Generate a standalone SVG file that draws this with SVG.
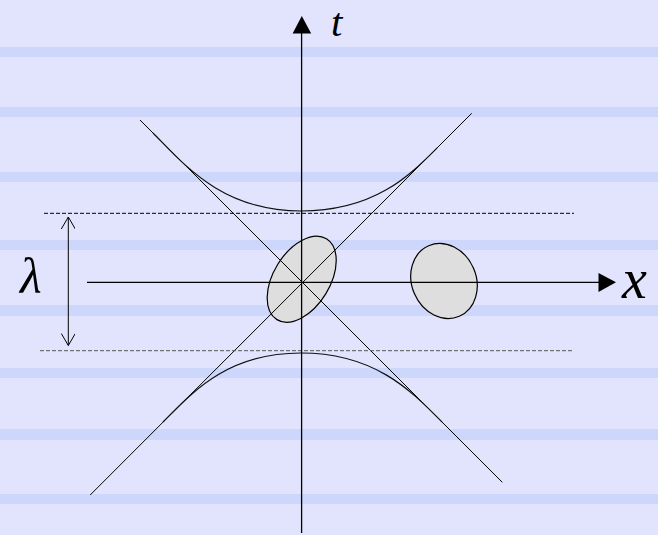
<svg xmlns="http://www.w3.org/2000/svg" width="658" height="535" viewBox="0 0 658 535">
  <defs>
    <style>
      .stripe { fill: #CDD7FC; }
      .axis { stroke: #000; stroke-width: 1.3; fill: none; }
      .thin { stroke: #000; stroke-width: 1; fill: none; }
      .curve { stroke: #111; stroke-width: 1.2; fill: none; }
      .dash { stroke-width: 1; stroke-dasharray: 4 2; fill: none; }
      .blob { fill: #DEDEDE; stroke: #000; stroke-width: 1.2; }
      .lbl { font-family: "Liberation Serif", "Times New Roman", serif; font-style: italic; fill: #000; }
    </style>
    <marker id="openhead" viewBox="0 0 14 14" refX="13" refY="7" markerWidth="14" markerHeight="14" markerUnits="userSpaceOnUse" orient="auto-start-reverse">
      <path d="M1,0 L13,7 L1,14" fill="none" stroke="#000" stroke-width="1"/>
    </marker>
  </defs>

  <g id="background">
    <rect x="0" y="0" width="658" height="535" fill="#E2E4FD"/>
    <rect class="stripe" x="0" y="47" width="658" height="10"/>
    <rect class="stripe" x="0" y="107" width="658" height="10"/>
    <rect class="stripe" x="0" y="172" width="658" height="10"/>
    <rect class="stripe" x="0" y="240" width="658" height="10"/>
    <rect class="stripe" x="0" y="305" width="658" height="11"/>
    <rect class="stripe" x="0" y="368" width="658" height="10"/>
    <rect class="stripe" x="0" y="429" width="658" height="11"/>
    <rect class="stripe" x="0" y="494" width="658" height="10"/>
  </g>

  <g id="ellipse-moving">
    <ellipse class="blob" cx="301.7" cy="279.2" rx="28.2" ry="47.4" transform="rotate(31.5 301.7 279.2)"/>
  </g>
  <g id="ellipse-rest">
    <ellipse class="blob" cx="444" cy="281" rx="32.2" ry="38.4" transform="rotate(-23.5 444 281)"/>
  </g>

  <g id="connectors">
    <!-- light cone -->
    <line class="thin" x1="140" y1="120" x2="502.3" y2="482.3"/>
    <line class="thin" x1="471.7" y1="113.3" x2="90.2" y2="495"/>
    <!-- hyperbolas -->
    <path class="curve" d="M153,133 C183,163 221,211 301,211 C374.5,211 409.4,175.6 437,148"/>
    <path class="curve" d="M163,422 C191,394 226,353 301,353 C377,353 413.4,393.4 442,422"/>
    <!-- dashed bounds -->
    <line class="dash" x1="44" y1="213.3" x2="574" y2="213.3" stroke="#000"/>
    <line class="dash" x1="40" y1="350.7" x2="574" y2="350.7" stroke="#555"/>
    <!-- lambda double arrow -->
    <line class="thin" x1="68.3" y1="217" x2="68.3" y2="345.5" marker-start="url(#openhead)" marker-end="url(#openhead)"/>
    <!-- axes -->
    <line class="axis" x1="301.6" y1="533" x2="301.6" y2="32"/>
    <polygon points="301.8,16 292.6,33.5 311.2,33.5" fill="#000"/>
    <line class="axis" x1="87" y1="282.3" x2="600" y2="282.3"/>
    <polygon points="616,282.3 598.5,273 598.5,292" fill="#000"/>
  </g>

  <g id="labels">
    <text class="lbl" x="331" y="36" font-size="41">t</text>
    <text class="lbl" x="622" y="298" font-size="56">x</text>
    <text class="lbl" x="20" y="293" font-size="50">λ</text>
  </g>
</svg>
